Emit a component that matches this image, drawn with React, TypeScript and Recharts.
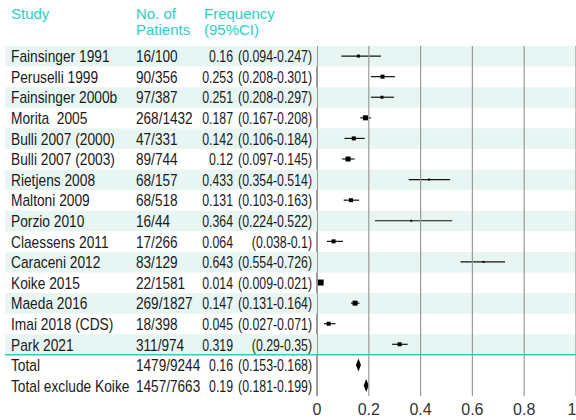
import {
  ComposedChart, Bar, XAxis, YAxis, ReferenceArea, ReferenceLine,
} from 'recharts';

// rows, top to bottom
const studies = [
  'Fainsinger 1991', 'Peruselli 1999', 'Fainsinger 2000b', 'Morita  2005',
  'Bulli 2007 (2000)', 'Bulli 2007 (2003)', 'Rietjens 2008', 'Maltoni 2009',
  'Porzio 2010', 'Claessens 2011', 'Caraceni 2012', 'Koike 2015',
  'Maeda 2016', 'Imai 2018 (CDS)', 'Park 2021', 'Total', 'Total exclude Koike',
];
const patients = [
  '16/100', '90/356', '97/387', '268/1432', '47/331', '89/744', '68/157', '68/518',
  '16/44', '17/266', '83/129', '22/1581', '269/1827', '18/398', '311/974',
  '1479/9244', '1457/7663',
];
const estimates = [
  0.16, 0.253, 0.251, 0.187, 0.142, 0.12, 0.433, 0.131, 0.364, 0.064, 0.643,
  0.014, 0.147, 0.045, 0.319, 0.16, 0.19,
];
const ciLow = [
  0.094, 0.208, 0.208, 0.167, 0.106, 0.097, 0.354, 0.103, 0.224, 0.038, 0.554,
  0.009, 0.131, 0.027, 0.29, 0.153, 0.181,
];
const ciHigh = [
  0.247, 0.301, 0.297, 0.208, 0.184, 0.145, 0.514, 0.163, 0.522, 0.1, 0.726,
  0.021, 0.164, 0.071, 0.35, 0.168, 0.199,
];
// square size (study weight); 0 = pooled diamond
const markerSize = [3, 4, 3, 5, 4, 5, 2, 4, 2, 4, 2, 6, 5, 4, 4, 0, 0];
const xTicks = [0, 0.2, 0.4, 0.6, 0.8, 1];

const W = 576;
const H = 420;
const TOP = 46;
const AXIS_H = 24;
const LEFT = 317;
const ROW_H = (H - TOP - AXIS_H) / studies.length;
const N_STUDIES = 15;

const TEAL = '#2ccfbf';
const STRIPE = '#e8f6f3';
const FONT = "'Liberation Sans', Arial, sans-serif";

const data = studies.map((study, i) => ({
  study,
  patients: patients[i],
  est: estimates[i],
  lo: ciLow[i],
  hi: ciHigh[i],
  size: markerSize[i],
  range: [ciLow[i], ciHigh[i]],
}));

// condensed look: Liberation Sans squeezed horizontally
function NarrowText({ x, y, sx, anchor = 'start', children }: any) {
  return (
    <text
      transform={`translate(${x} ${y}) scale(${sx} 1)`}
      dy={6}
      textAnchor={anchor}
      style={{ whiteSpace: 'pre' }}
    >
      {children}
    </text>
  );
}

function RowTick(props: any) {
  const { y, payload } = props;
  const i = payload.index;
  const d = data[i];
  const top = y - ROW_H / 2;
  return (
    <g fontFamily={FONT} fontSize={16} fill="#1a1a1a">
      {i % 2 === 0 && i < N_STUDIES && (
        <rect x={5} y={top} width={LEFT - 5} height={ROW_H} fill={STRIPE} />
      )}
      {i === N_STUDIES && (
        <line x1={5} x2={W} y1={top} y2={top} stroke={TEAL} strokeWidth={1.5} />
      )}
      <NarrowText x={11} y={y} sx={0.86}>{d.study}</NarrowText>
      <NarrowText x={136} y={y} sx={0.85}>{d.patients}</NarrowText>
      <NarrowText x={233} y={y} sx={0.77} anchor="end">{String(d.est)}</NarrowText>
      <NarrowText x={312} y={y} sx={0.77} anchor="end">{`(${d.lo}-${d.hi})`}</NarrowText>
    </g>
  );
}

function ForestMark(props: any) {
  const { x, y, width, height, payload } = props;
  const cy = y + height / 2;
  const ex = x + (width * (payload.est - payload.lo)) / (payload.hi - payload.lo);
  if (!payload.size) {
    const hw = Math.max(width / 2, 2.5);
    return (
      <polygon
        points={`${ex - hw},${cy} ${ex},${cy - 6.5} ${ex + hw},${cy} ${ex},${cy + 6.5}`}
        fill="#000"
      />
    );
  }
  const s = payload.size;
  return (
    <g>
      <line x1={x} x2={x + width} y1={cy} y2={cy} stroke="#111" strokeWidth={1.2} />
      <rect x={ex - s / 2} y={cy - s / 2} width={s} height={s} fill="#000" />
    </g>
  );
}

export default function App() {
  return (
    <div style={{ position: 'absolute', left: 0, top: 0, width: W, height: H }}>
      <ComposedChart
        width={W}
        height={H}
        data={data}
        layout="vertical"
        margin={{ top: TOP, right: 0, bottom: 0, left: 0 }}
      >
        {data.map((d, i) =>
          i % 2 === 0 && i < N_STUDIES ? (
            <ReferenceArea
              key={d.study}
              y1={d.study}
              y2={d.study}
              fill={STRIPE}
              fillOpacity={1}
              stroke="none"
            />
          ) : null,
        )}
        {xTicks.map((t) => (
          <ReferenceLine
            key={t}
            x={t}
            stroke={t === 0 ? '#7a7a7a' : '#9a9a9a'}
            strokeWidth={t === 0 ? 1.5 : 1.2}
          />
        ))}
        <XAxis
          type="number"
          domain={[0, 1]}
          ticks={xTicks}
          height={AXIS_H}
          axisLine={false}
          tickLine={false}
          tick={{ fill: '#333', fontSize: 16, fontFamily: FONT }}
        />
        <YAxis
          type="category"
          dataKey="study"
          width={LEFT}
          interval={0}
          axisLine={false}
          tickLine={false}
          tick={<RowTick />}
        />
        <Bar dataKey="range" shape={<ForestMark />} isAnimationActive={false} />
      </ComposedChart>
      <svg
        width={W}
        height={TOP}
        style={{ position: 'absolute', left: 0, top: 0 }}
        fontFamily={FONT}
        fontSize={15}
        fill={TEAL}
      >
        <text x={11} y={19}>Study</text>
        <text x={136} y={19}>No. of</text>
        <text x={136} y={35}>Patients</text>
        <text x={204} y={19}>Frequency</text>
        <text x={204} y={35}>(95%CI)</text>
      </svg>
    </div>
  );
}
